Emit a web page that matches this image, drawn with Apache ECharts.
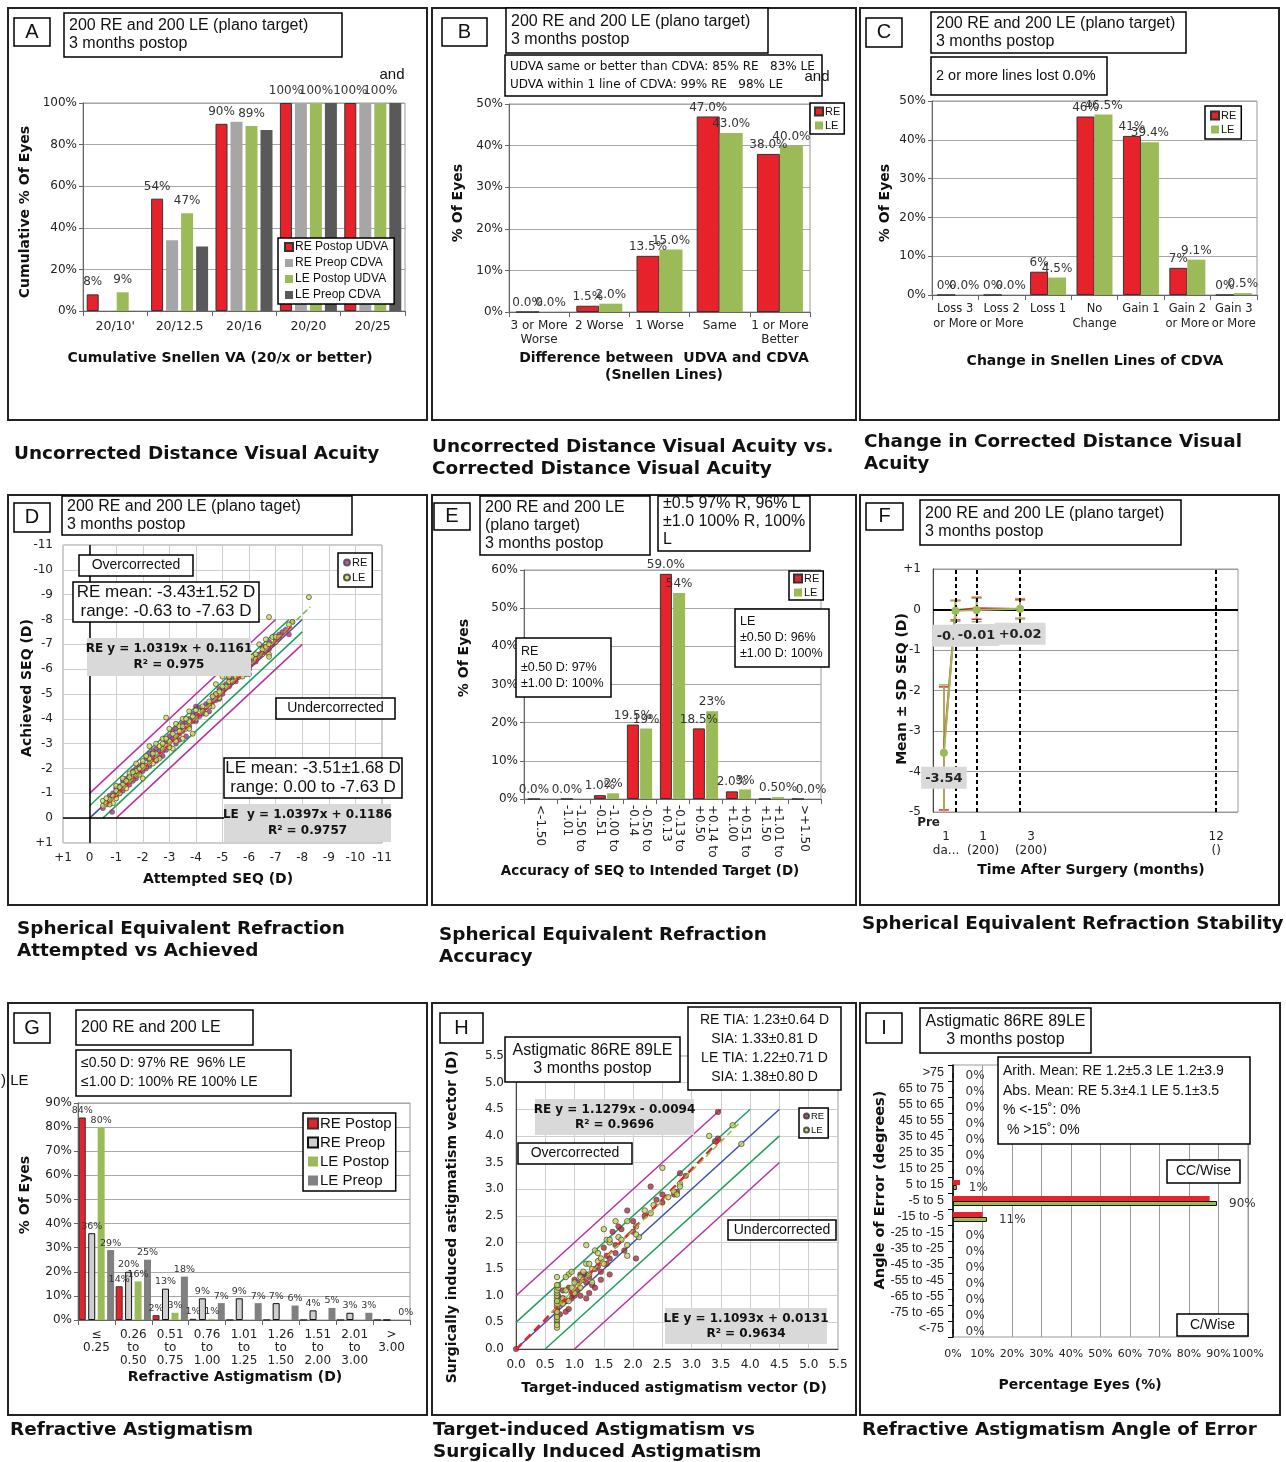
<!DOCTYPE html>
<html><head><meta charset="utf-8">
<script src="https://cdn.jsdelivr.net/npm/echarts@6/dist/echarts.min.js"></script>
<style>html,body{margin:0;padding:0;background:#fff}#c{width:1286px;height:1462px}</style>
</head><body><div id="c"></div>
<script>
// ================= DATA =================
// Panel A
const A_categories = ["20/10'", "20/12.5", "20/16", "20/20", "20/25"];
const A_rePostopUDVA = [8, 54, 90, 100, 100];
const A_rePreopCDVA  = [0, 34, 91, 100, 100];
const A_lePostopUDVA = [9, 47, 89, 100, 100];
const A_lePreopCDVA  = [0, 31, 87, 100, 100];
const A_reLabels = ["8%", "54%", "90%", "100%", "100%"];
const A_leLabels = ["9%", "47%", "89%", "100%", "100%"];
// Panel B
const B_categories = ["3 or More\nWorse", "2 Worse", "1 Worse", "Same", "1 or More\nBetter"];
const B_re = [0, 1.5, 13.5, 47, 38];
const B_le = [0, 2, 15, 43, 40];
// Panel C
const C_categories = ["Loss 3\nor More", "Loss 2\nor More", "Loss 1", "No\nChange", "Gain 1", "Gain 2\nor More", "Gain 3\nor More"];
const C_re = [0, 0, 6, 46, 41, 7, 0];
const C_le = [0, 0, 4.5, 46.5, 39.4, 9.1, 0.5];
const C_reLabels = ["0%", "0%", "6%", "46%", "41%", "7%", "0%"];
const C_leLabels = ["0.0%", "0.0%", "4.5%", "46.5%", "39.4%", "9.1%", "0.5%"];
// Panel D  [attempted, achieved]
const D_re = [[-0.63,-0.55],[-0.75,-0.9],[-0.85,-0.25],[-1.0,-1.2],[-1.0,-0.9],[-1.13,-1.3],[-1.25,-1.1],[-1.25,-1.5],[-1.38,-1.4],[-1.5,-1.7],[-1.5,-1.35],[-1.63,-1.9],[-1.75,-1.6],[-1.75,-2.0],[-1.88,-1.8],[-2.0,-2.2],[-2.0,-1.9],[-2.13,-2.4],[-2.25,-2.1],[-2.25,-2.6],[-2.38,-2.5],[-2.5,-2.3],[-2.5,-2.8],[-2.63,-2.7],[-2.75,-2.9],[-2.75,-2.5],[-2.88,-3.1],[-3.0,-3.3],[-3.0,-2.9],[-3.13,-3.2],[-3.25,-3.6],[-3.25,-3.0],[-3.38,-3.4],[-3.5,-3.8],[-3.5,-3.5],[-3.63,-3.3],[-3.75,-4.0],[-3.88,-3.9],[-4.0,-4.2],[-4.0,-4.5],[-4.13,-4.1],[-4.25,-4.4],[-4.38,-4.6],[-4.5,-4.3],[-4.63,-4.9],[-4.75,-5.0],[-4.88,-4.8],[-5.0,-5.2],[-5.13,-5.4],[-5.25,-5.3],[-5.38,-5.6],[-5.5,-5.8],[-5.63,-5.7],[-5.75,-6.0],[-5.88,-6.1],[-6.0,-5.8],[-6.13,-6.4],[-6.25,-6.5],[-6.5,-6.7],[-6.63,-6.9],[-6.75,-7.1],[-7.0,-7.2],[-7.25,-7.5],[-7.5,-7.4],[-7.63,-7.9],
  [-0.5,-0.4],[-0.75,-0.6],[-0.88,-1.0],[-1.13,-1.0],[-1.25,-1.3],[-1.38,-1.6],[-1.5,-1.55],[-1.63,-1.5],[-1.75,-1.8],[-1.88,-2.1],[-2.0,-2.0],[-2.13,-2.0],[-2.25,-2.35],[-2.38,-2.7],[-2.5,-2.55],[-2.63,-2.45],[-2.75,-2.7],[-2.88,-2.75],[-3.0,-3.1],[-3.13,-3.5],[-3.25,-3.3],[-3.38,-3.15],[-3.5,-3.65],[-3.63,-3.85],[-3.75,-3.7],[-3.88,-4.2],[-4.0,-3.9],[-4.13,-4.45],[-4.25,-4.2],[-4.5,-4.6],[-4.63,-4.7],[-4.75,-4.75],[-4.88,-5.2],[-5.0,-5.0],[-5.25,-5.6],[-5.5,-5.5],[-5.75,-5.8],[-6.0,-6.2],[-6.25,-6.3],[-6.38,-6.6],[-6.5,-6.9],[-6.75,-6.8],[-6.88,-7.0],[-7.13,-7.4],[-7.38,-7.6]];
const D_le = [[-0.5,-0.5],[-0.5,-0.7],[-0.63,-0.6],[-0.75,-0.75],[-0.88,-0.9],[-0.88,-0.6],[-1.0,-1.1],[-1.0,-0.8],[-1.13,-1.0],[-1.25,-1.35],[-1.25,-1.6],[-1.38,-1.2],[-1.5,-1.5],[-1.5,-1.8],[-1.63,-1.6],[-1.75,-1.9],[-1.75,-2.2],[-1.88,-2.0],[-2.0,-1.6],[-2.0,-2.3],[-2.13,-2.1],[-2.25,-2.4],[-2.25,-2.9],[-2.38,-2.2],[-2.5,-2.6],[-2.5,-3.0],[-2.63,-2.4],[-2.75,-2.8],[-2.75,-3.2],[-2.88,-2.9],[-2.88,-4.05],[-3.0,-3.1],[-3.0,-3.6],[-3.13,-2.8],[-3.25,-3.3],[-3.25,-3.8],[-3.38,-3.7],[-3.5,-3.2],[-3.5,-4.0],[-3.63,-3.6],[-3.75,-3.9],[-3.75,-4.3],[-3.88,-3.4],[-4.0,-4.0],[-4.13,-4.3],[-4.25,-4.5],[-4.38,-4.2],[-4.5,-4.7],[-4.63,-4.5],[-4.75,-5.0],[-4.75,-5.4],[-4.88,-5.1],[-5.0,-5.7],[-5.13,-5.3],[-5.25,-5.5],[-5.5,-5.7],[-5.63,-5.7],[-5.75,-6.1],[-5.88,-5.8],[-6.0,-6.3],[-6.13,-6.5],[-6.25,-6.6],[-6.38,-7.0],[-6.5,-6.8],[-6.63,-7.2],[-6.75,-6.6],[-6.75,-8.1],[-6.88,-7.3],[-7.0,-7.3],[-7.63,-7.9],[-8.25,-8.9],
  [-0.63,-0.8],[-0.75,-0.55],[-1.0,-1.3],[-1.13,-1.25],[-1.38,-1.5],[-1.5,-1.65],[-1.63,-1.85],[-1.75,-1.7],[-1.88,-1.75],[-2.0,-2.1],[-2.13,-2.5],[-2.25,-2.2],[-2.38,-2.6],[-2.5,-2.35],[-2.63,-2.9],[-2.75,-3.0],[-2.88,-3.2],[-3.0,-2.85],[-3.13,-3.4],[-3.25,-3.1],[-3.38,-3.5],[-3.5,-3.7],[-3.63,-4.0],[-3.75,-3.6],[-3.88,-4.1],[-4.0,-4.35],[-4.25,-4.3],[-4.5,-4.5],[-4.63,-4.9],[-4.88,-4.85],[-5.0,-5.3],[-5.25,-5.7],[-5.38,-5.5],[-5.5,-5.9],[-5.75,-5.7],[-6.0,-6.0],[-6.25,-6.4],[-6.5,-6.6],[-6.63,-6.9],[-6.75,-7.0],[-7.0,-7.1],[-7.13,-7.3],[-6.75,-6.5],[-7.5,-7.8]];
const D_identity = [[0,0],[-8,-8]];
const D_over05 = [[0,-0.5],[-7.5,-8]];
const D_under05 = [[-0.5,0],[-8,-7.5]];
const D_over10 = [[0,-1],[-7,-8]];
const D_under10 = [[-1,0],[-8,-7]];
const D_reFit = [[-0.6,-0.5],[-7.6,-7.73]];
const D_leFit = [[-0.5,-0.4],[-8.3,-8.51]];
// Panel E
const E_categories = ["<-1.50", "-1.50 to\n-1.01", "-1.00 to\n-0.51", "-0.50 to\n-0.14", "-0.13 to\n+0.13", "+0.14 to\n+0.50", "+0.51 to\n+1.00", "+1.01 to\n+1.50", ">+1.50"];
const E_re = [0, 0, 1, 19.5, 59, 18.5, 2, 0, 0];
const E_le = [0, 0, 1.5, 18.5, 54, 23, 2.5, 0.5, 0];
const E_reLabels = ["0.0%", "0.0%", "1.0%", "19.5%", "59.0%", "18.5%", "2.0%", "", ""];
const E_leLabels = ["", "", "2%", "19%", "54%", "23%", "3%", "0.50%", "0.0%"];
// Panel F
const F_times = [-0.5, 0.03, 1, 3];
const F_reMean = [-3.43, -0.02, 0.03, 0.01];
const F_reSD = [1.52, 0.24, 0.27, 0.23];
const F_leMean = [-3.54, -0.03, -0.01, 0.02];
const F_leSD = [1.68, 0.26, 0.29, 0.25];
const F_leLabels = ["-3.54", "-0.03", "-0.01", "+0.02"];
const F_visitLines = [0.03, 1, 3, 12];
const F_tickValues = [-0.4, 1.3, 3.5, 12];
const F_tickLabels = ["1\nda...", "1\n(200)", "3\n(200)", "12\n()"];
const F_preLabel = "Pre";
// Panel G
const G_categories = ["≤\n0.25", "0.26\nto\n0.50", "0.51\nto\n0.75", "0.76\nto\n1.00", "1.01\nto\n1.25", "1.26\nto\n1.50", "1.51\nto\n2.00", "2.01\nto\n3.00", ">\n3.00"];
const G_rePostop = [84, 14, 2, 0.5, 0, 0, 0, 0, 0];
const G_rePreop  = [36, 20, 13, 9, 9, 7, 4, 3, 0];
const G_lePostop = [80, 16, 3, 0.5, 0, 0, 0, 0, 0];
const G_lePreop  = [29, 25, 18, 7, 7, 6, 5, 3, 0];
const G_rePostopLabels = ["84%", "14%", "2%", "1%", "", "", "", "", ""];
const G_rePreopLabels  = ["36%", "20%", "13%", "9%", "9%", "7%", "4%", "3%", ""];
const G_lePostopLabels = ["80%", "16%", "3%", "1%", "", "", "", "", ""];
const G_lePreopLabels  = ["29%", "25%", "18%", "7%", "7%", "6%", "5%", "3%", "0%"];
// Panel H [TIA, SIA]
const H_re = [[0,0],[0.7,0.5],[0.7,0.6],[0.7,0.75],[0.7,0.9],[0.72,1.0],[0.75,0.85],[0.8,1.1],[0.85,0.7],[0.9,0.75],[0.9,1.15],[0.95,0.95],[1.0,1.0],[1.0,1.3],[1.05,1.1],[1.1,1.0],[1.15,1.4],[1.2,0.95],[1.2,1.25],[1.25,1.05],[1.3,1.2],[1.35,1.15],[1.4,1.55],[1.45,1.3],[1.5,1.9],[1.55,1.6],[1.6,1.4],[1.6,1.7],[1.65,2.2],[1.7,1.95],[1.8,2.25],[1.85,1.85],[1.9,2.6],[2.0,2.2],[2.05,1.7],[2.2,2.5],[2.3,3.05],[2.4,2.8],[2.5,2.75],[2.7,2.9],[2.8,3.3],[2.9,3.25],[3.45,3.95],[3.45,4.45],
  [0.75,0.65],[0.8,0.95],[0.85,0.9],[0.95,1.05],[1.05,1.25],[1.1,1.4],[1.2,1.4],[1.25,1.35],[1.35,1.5],[1.45,1.45],[1.55,1.75],[1.7,1.8],[1.75,2.3],[2.0,2.4],[2.5,2.9],[2.75,2.95],[3.4,3.9]];
const H_le = [[0.7,0.4],[0.7,0.45],[0.7,0.55],[0.7,0.65],[0.7,0.7],[0.7,0.8],[0.7,0.85],[0.7,0.95],[0.7,1.0],[0.7,1.05],[0.7,1.1],[0.72,1.15],[0.72,1.2],[0.7,1.35],[0.75,0.9],[0.8,0.95],[0.85,1.1],[0.9,1.4],[0.9,0.9],[0.95,1.45],[1.0,1.05],[1.05,1.2],[1.1,1.35],[1.15,1.3],[1.2,1.6],[1.2,1.95],[1.25,1.4],[1.3,1.25],[1.35,1.85],[1.4,1.65],[1.45,1.7],[1.5,2.25],[1.55,2.05],[1.6,2.0],[1.7,2.4],[1.75,2.1],[1.9,1.75],[1.9,1.95],[1.9,2.4],[2.05,2.3],[2.1,2.1],[2.2,2.6],[2.3,2.55],[2.5,3.4],[2.7,2.95],[2.75,2.9],[2.8,3.1],[3.3,4.0],[3.7,4.2],[3.85,3.85],
  [0.7,0.6],[0.7,0.9],[0.7,1.2],[0.8,0.85],[0.85,1.35],[0.95,1.15],[1.0,1.25],[1.1,1.15],[1.15,1.45],[1.25,1.6],[1.3,1.5],[1.4,1.8],[1.5,1.6],[1.6,2.05],[1.8,2.05],[2.05,2.15],[2.35,2.7],[2.6,2.85],[2.8,3.05]];
const H_identity = [[0,0],[4.5,4.5]];
const H_over05 = [[0,0.5],[4,4.5]];
const H_under05 = [[0.5,0],[4.5,4]];
const H_over10 = [[0,1],[3.5,4.5]];
const H_under10 = [[1,0],[4.5,3.5]];
const H_reFit = [[0,-0.01],[3.5,3.94]];
const H_leFit = [[0.6,0.68],[3.85,4.28]];
// Panel I
const I_categories = [">75", "65 to 75", "55 to 65", "45 to 55", "35 to 45", "25 to 35", "15 to 25", "5 to 15", "-5 to 5", "-15 to -5", "-25 to -15", "-35 to -25", "-45 to -35", "-55 to -45", "-65 to -55", "-75 to -65", "<-75"];
const I_re = [0, 0, 0, 0, 0, 0, 0, 2.4, 87, 10, 0, 0, 0, 0, 0, 0, 0];
const I_le = [0, 0, 0, 0, 0, 0, 0, 1.3, 89.5, 11.5, 0, 0, 0, 0, 0, 0, 0];
const I_leLabels = ["0%", "0%", "0%", "0%", "0%", "0%", "0%", "1%", "90%", "11%", "0%", "0%", "0%", "0%", "0%", "0%", "0%"];

// ================= STYLE / HELPERS =================
const FONT = 'DejaVu Sans', ARIAL = 'Liberation Sans';
const RED = '#e8222a', GREEN = '#9bbb59', LGRAY = '#a6a6a6', DGRAY = '#595959';
const MAG = '#b8309f', TEAL = '#1f9e5e', BLUE = '#3a4fb0';
const ZW = n => '\u200b'.repeat(n);
const strip = s => s.replace(/\u200b/g, '');

function merge(a, b) {
  for (const k in b) {
    if (b[k] && typeof b[k] === 'object' && !Array.isArray(b[k]) && a[k] && typeof a[k] === 'object' && !Array.isArray(a[k])) merge(a[k], b[k]);
    else a[k] = b[k];
  }
  return a;
}
function pctAxis(gi, max, interval, extra) {
  return merge({gridIndex: gi, type: 'value', min: 0, max, interval,
    axisLine: {show: true, lineStyle: {color: '#666'}}, axisTick: {show: true, length: 4, lineStyle: {color: '#666'}},
    splitLine: {show: true, lineStyle: {color: '#a8a8a8', width: 1}},
    axisLabel: {formatter: '{value}%', fontFamily: FONT, fontSize: 12, color: '#222', margin: 6, showMinLabel: true, showMaxLabel: true}}, extra || {});
}
function catAxis(gi, data, extra) {
  return merge({gridIndex: gi, type: 'category', data,
    axisLine: {show: true, lineStyle: {color: '#666'}}, axisTick: {show: true, length: 5, lineStyle: {color: '#666'}},
    splitLine: {show: false},
    axisLabel: {interval: 0, fontFamily: FONT, fontSize: 12, color: '#222', margin: 7, lineHeight: 14, hideOverlap: false}}, extra || {});
}
function bar(name, gi, data, color, o) {
  o = o || {};
  const s = {type: 'bar', name, xAxisIndex: gi, yAxisIndex: gi, data, barWidth: o.bw, barGap: o.gap || '0%',
    itemStyle: {color, borderColor: o.border || color, borderWidth: o.border ? 1 : 0}, z: 2, silent: true};
  if (o.labels) s.label = {show: true, position: o.pos || 'top', distance: o.dist === undefined ? 3 : o.dist,
    fontFamily: FONT, fontSize: o.fs || 12, color: '#333', formatter: p => o.labels[p.dataIndex]};
  return s;
}
function refLine(name, gi, data, color, o) {
  o = o || {};
  return {type: 'line', name, xAxisIndex: gi, yAxisIndex: gi, data, showSymbol: false, symbol: 'none', silent: true,
    lineStyle: {color, width: o.w || 1.5, type: o.type || 'solid'}, z: o.z || 3, clip: true};
}
function legendBox(names, left, top, o) {
  o = o || {};
  return {left, top, orient: 'vertical', data: names, selectedMode: false,
    backgroundColor: '#fff', borderColor: '#000', borderWidth: 1.5, padding: o.pad || [3, 4],
    itemGap: o.gap === undefined ? 3 : o.gap, itemWidth: o.iw || 8, itemHeight: o.ih || 8, icon: o.icon || 'rect',
    formatter: strip, textStyle: {fontFamily: o.ff || ARIAL, fontSize: o.fs || 11, color: '#111', padding: [0, 0, 0, -3]}, z: 60};
}

// ================= GRAPHICS (frames, text boxes, captions) =================
const gfx = [];
function rect(x, y, w, h, o) {
  o = o || {};
  gfx.push({type: 'rect', shape: {x, y, width: w, height: h}, z: o.z || 100, silent: true,
    style: {fill: o.fill === undefined ? '#fff' : o.fill, stroke: o.stroke === undefined ? '#000' : o.stroke, lineWidth: o.lw || 1.5}});
}
function text(x, y, str, o) {
  o = o || {};
  gfx.push({type: 'text', x, y, z: o.z || 101, silent: true, rotation: o.rot || 0,
    style: {text: str, fontFamily: o.ff || ARIAL, fontSize: o.fs || 16, fontWeight: o.fw || 'normal', fill: o.color || '#111',
      align: o.align || 'left', verticalAlign: 'middle', lineHeight: o.lh || Math.round((o.fs || 16) * 1.17)}});
}
function tbox(x, y, w, h, str, o) {
  o = o || {};
  rect(x, y, w, h, {fill: o.fill, stroke: o.stroke, lw: o.lw});
  const al = o.align || 'left';
  text(al === 'center' ? x + w / 2 : x + (o.pad || 5), y + h / 2 + (o.dy || 0), str, {fs: o.fs, ff: o.ff, fw: o.fw, align: al, lh: o.lh});
}
function ytitle(x, y, str, fs) { text(x, y, str, {rot: Math.PI / 2, align: 'center', ff: FONT, fw: 'bold', fs: fs || 14}); }
function xtitle(x, y, str, fs) { text(x, y, str, {align: 'center', ff: FONT, fw: 'bold', fs: fs || 14}); }
function caption(x, y, str) { text(x, y, str, {ff: FONT, fw: 'bold', fs: 18.4, lh: 22}); }

// panel frames
[[8,8,419,412],[432,8,424,412],[860,8,419,412],[8,495,419,410],[432,495,424,410],[860,495,419,410],[8,1003,419,412],[432,1003,424,412],[860,1003,420,412]]
  .forEach(r => rect(r[0], r[1], r[2], r[3], {fill: 'none', stroke: '#222', lw: 2, z: 90}));

// A
tbox(14, 18, 36, 28, 'A', {align: 'center', fs: 20});
tbox(64, 13, 278, 44, '200 RE and 200 LE (plano target)\n3 months postop', {fs: 16, lh: 18});
text(392, 75, 'and', {fs: 15, align: 'center'});
ytitle(25, 212, 'Cumulative % Of Eyes');
xtitle(220, 358, 'Cumulative Snellen VA (20/x or better)');
caption(14, 454, 'Uncorrected Distance Visual Acuity');
// B
tbox(442, 18, 45, 28, 'B', {align: 'center', fs: 20});
tbox(506, 8, 262, 45, '200 RE and 200 LE (plano target)\n3 months postop', {fs: 16, lh: 18});
tbox(505, 55, 317, 41, 'UDVA same or better than CDVA: 85% RE   83% LE\nUDVA within 1 line of CDVA: 99% RE   98% LE', {fs: 12, ff: FONT, lh: 18});
text(817, 77, 'and', {fs: 15, align: 'center', z: 102});
ytitle(458, 203, '% Of Eyes');
xtitle(664, 358, 'Difference between  UDVA and CDVA');
xtitle(664, 375, '(Snellen Lines)');
caption(432, 447, 'Uncorrected Distance Visual Acuity vs.');
caption(432, 469, 'Corrected Distance Visual Acuity');
// C
tbox(866, 18, 36, 29, 'C', {align: 'center', fs: 20});
tbox(931, 12, 255, 41, '200 RE and 200 LE (plano target)\n3 months postop', {fs: 16, lh: 18});
tbox(931, 57, 176, 38, '2 or more lines lost 0.0%', {fs: 14.5});
ytitle(885, 203, '% Of Eyes');
xtitle(1095, 361, 'Change in Snellen Lines of CDVA');
caption(864, 442, 'Change in Corrected Distance Visual');
caption(864, 464, 'Acuity');
// D
tbox(14, 503, 36, 29, 'D', {align: 'center', fs: 20});
tbox(62, 496, 290, 39, '200 RE and 200 LE (plano taget)\n3 months postop', {fs: 16, lh: 18});
tbox(79, 555, 114, 21, 'Overcorrected', {align: 'center', fs: 14});
tbox(73, 582, 186, 40, 'RE mean: -3.43±1.52 D\nrange: -0.63 to -7.63 D', {align: 'center', fs: 17, lh: 19});
tbox(87, 638, 164, 38, 'RE y = 1.0319x + 0.1161\nR² = 0.975', {align: 'center', fs: 12, ff: FONT, fw: 'bold', fill: '#d9d9d9', stroke: 'none', lh: 16});
tbox(276, 698, 119, 21, 'Undercorrected', {align: 'center', fs: 14});
tbox(224, 758, 178, 40, 'LE mean: -3.51±1.68 D\nrange: 0.00 to -7.63 D', {align: 'center', fs: 17, lh: 19});
tbox(224, 804, 167, 38, 'LE  y = 1.0397x + 0.1186\nR² = 0.9757', {align: 'center', fs: 12, ff: FONT, fw: 'bold', fill: '#d9d9d9', stroke: 'none', lh: 16});
ytitle(27, 688, 'Achieved SEQ (D)');
xtitle(218, 879, 'Attempted SEQ (D)');
caption(17, 929, 'Spherical Equivalent Refraction');
caption(17, 951, 'Attempted vs Achieved');
// E
tbox(434, 503, 36, 27, 'E', {align: 'center', fs: 20});
tbox(480, 496, 170, 59, '200 RE and 200 LE\n(plano target)\n3 months postop', {fs: 16, lh: 18});
tbox(658, 496, 152, 55, '±0.5 97% R, 96% L\n±1.0 100% R, 100%\nL', {fs: 16, lh: 18, dy: -2});
tbox(516, 638, 95, 59, 'RE\n±0.50 D: 97%\n±1.00 D: 100%', {fs: 12.5, lh: 16});
tbox(735, 609, 94, 58, 'LE\n±0.50 D: 96%\n±1.00 D: 100%', {fs: 12.5, lh: 16});
ytitle(464, 658, '% Of Eyes');
xtitle(650, 871, 'Accuracy of SEQ to Intended Target (D)', 13.5);
caption(439, 935, 'Spherical Equivalent Refraction');
caption(439, 957, 'Accuracy');
// F
tbox(866, 503, 37, 27, 'F', {align: 'center', fs: 20});
tbox(920, 500, 261, 45, '200 RE and 200 LE (plano target)\n3 months postop', {fs: 16, lh: 18});
ytitle(902, 689, 'Mean ± SD SEQ (D)');
xtitle(1091, 870, 'Time After Surgery (months)');
caption(862, 924, 'Spherical Equivalent Refraction Stability');
// G
tbox(14, 1013, 36, 30, 'G', {align: 'center', fs: 20});
tbox(76, 1010, 177, 35, '200 RE and 200 LE', {fs: 16});
tbox(76, 1050, 215, 46, '≤0.50 D: 97% RE  96% LE\n≤1.00 D: 100% RE 100% LE', {fs: 14, lh: 19});
text(1, 1081, ') LE', {fs: 15});
ytitle(25, 1195, '% Of Eyes');
xtitle(235, 1377, 'Refractive Astigmatism (D)');
caption(10, 1430, 'Refractive Astigmatism');
// H
tbox(440, 1013, 43, 30, 'H', {align: 'center', fs: 20});
tbox(505, 1037, 175, 45, 'Astigmatic 86RE 89LE\n3 months postop', {align: 'center', fs: 16, lh: 18});
tbox(688, 1007, 153, 83, 'RE TIA: 1.23±0.64 D\nSIA: 1.33±0.81 D\nLE TIA: 1.22±0.71 D\nSIA: 1.38±0.80 D', {align: 'center', fs: 14, lh: 19});
tbox(535, 1099, 159, 36, 'RE y = 1.1279x - 0.0094\nR² = 0.9696', {align: 'center', fs: 12, ff: FONT, fw: 'bold', fill: '#d9d9d9', stroke: 'none', lh: 15});
tbox(518, 1143, 114, 21, 'Overcorrected', {align: 'center', fs: 14});
tbox(728, 1220, 108, 20, 'Undercorrected', {align: 'center', fs: 14});
tbox(665, 1308, 162, 36, 'LE y = 1.1093x + 0.0131\nR² = 0.9634', {align: 'center', fs: 12, ff: FONT, fw: 'bold', fill: '#d9d9d9', stroke: 'none', lh: 15});
ytitle(452, 1217, 'Surgically induced astigmatism vector (D)', 14);
xtitle(674, 1388, 'Target-induced astigmatism vector (D)', 14);
caption(433, 1430, 'Target-induced Astigmatism vs');
caption(433, 1452, 'Surgically Induced Astigmatism');
// I
tbox(866, 1013, 36, 30, 'I', {align: 'center', fs: 20});
tbox(920, 1008, 171, 45, 'Astigmatic 86RE 89LE\n3 months postop', {align: 'center', fs: 16, lh: 18});
tbox(998, 1057, 252, 87, 'Arith. Mean: RE 1.2±5.3 LE 1.2±3.9\nAbs. Mean: RE 5.3±4.1 LE 5.1±3.5\n% <-15˚: 0%\n % >15˚: 0%', {fs: 14, lh: 19.5});
tbox(1167, 1160, 73, 23, 'CC/Wise', {align: 'center', fs: 14});
tbox(1177, 1314, 71, 22, 'C/Wise', {align: 'center', fs: 14});
ytitle(880, 1190, 'Angle of Error (degrees)', 14.5);
xtitle(1080, 1385, 'Percentage Eyes (%)');
caption(862, 1430, 'Refractive Astigmatism Angle of Error');

// ================= GRIDS & AXES =================
const gridBoxes = [
  [83, 103, 322, 208],   // A
  [509, 104, 301, 208],  // B
  [932, 101, 325, 194],  // C
  [63, 545, 319, 298],   // D
  [524, 570, 297, 229],  // E
  [933, 569, 305, 243],  // F
  [78, 1103, 332, 217],  // G
  [516, 1056, 322, 293], // H
  [953, 1065, 295, 272]  // I
];
const grid = gridBoxes.map(b => ({left: b[0], top: b[1], width: b[2], height: b[3], containLabel: false, outerBoundsMode: 'none',
  show: true, borderColor: '#9a9a9a', borderWidth: 1, backgroundColor: 'transparent'}));

const sgn = v => v > 0 ? '+' + v : String(v);
const xAxis = [
  catAxis(0, A_categories, {axisLabel: {fontSize: 12.5, margin: 9}}),
  catAxis(1, B_categories, {axisLabel: {fontSize: 12}}),
  catAxis(2, C_categories, {axisLabel: {fontSize: 11.5, lineHeight: 15}}),
  {gridIndex: 3, type: 'value', min: -11, max: 1, interval: 1, inverse: true,
    axisLine: {show: false, onZero: false}, axisTick: {show: false}, splitLine: {show: true, lineStyle: {color: '#cfcfcf'}},
    axisLabel: {formatter: sgn, fontFamily: FONT, fontSize: 12, color: '#222', margin: 9, showMinLabel: true, showMaxLabel: true, hideOverlap: false}},
  catAxis(4, E_categories, {axisLabel: {rotate: -90, fontSize: 12, lineHeight: 13, margin: 6}}),
  {gridIndex: 5, type: 'value', min: -1, max: 13,
    name: F_preLabel, nameLocation: 'start', nameGap: -7, nameMoveOverlap: false,
    nameTextStyle: {fontFamily: FONT, fontWeight: 'bold', fontSize: 12, color: '#222', verticalAlign: 'top', padding: [5, 0, 0, 0]},
    axisLine: {show: false, onZero: false}, axisTick: {show: false}, splitLine: {show: false},
    axisLabel: {customValues: F_tickValues, showMinLabel: true, showMaxLabel: true, hideOverlap: false,
      fontFamily: FONT, fontSize: 12, color: '#222', margin: 4, lineHeight: 14,
      formatter: v => {
        let i = -1;
        F_tickValues.forEach((t, k) => { if (Math.abs(t - v) < 1e-6) i = k; });
        return i < 0 ? '' : ' \n' + F_tickLabels[i];
      }}},
  catAxis(6, G_categories, {axisLabel: {fontSize: 12, lineHeight: 13, margin: 8}}),
  {gridIndex: 7, type: 'value', min: 0, max: 5.5, interval: 0.5,
    axisLine: {show: true, lineStyle: {color: '#444'}}, axisTick: {show: false}, splitLine: {show: true, lineStyle: {color: '#cfcfcf'}},
    axisLabel: {formatter: v => v.toFixed(1), fontFamily: FONT, fontSize: 12, color: '#222', margin: 10, showMinLabel: true, showMaxLabel: true, hideOverlap: false}},
  {gridIndex: 8, type: 'value', min: 0, max: 100, interval: 10,
    axisLine: {show: false}, axisTick: {show: false}, splitLine: {show: true, lineStyle: {color: '#9a9a9a'}},
    axisLabel: {formatter: '{value}%', fontFamily: FONT, fontSize: 11, color: '#222', margin: 12, showMinLabel: true, showMaxLabel: true, hideOverlap: false}}
];
const yAxis = [
  pctAxis(0, 100, 20),
  pctAxis(1, 50, 10),
  pctAxis(2, 50, 10),
  {gridIndex: 3, type: 'value', min: -11, max: 1, interval: 1, inverse: true,
    axisLine: {show: false, onZero: false}, axisTick: {show: false}, splitLine: {show: true, lineStyle: {color: '#cfcfcf'}},
    axisLabel: {formatter: sgn, fontFamily: FONT, fontSize: 12, color: '#222', margin: 10, showMinLabel: true, showMaxLabel: true}},
  pctAxis(4, 60, 10),
  {gridIndex: 5, type: 'value', min: -5, max: 1, interval: 1,
    axisLine: {show: true, onZero: false, lineStyle: {color: '#444'}}, axisTick: {show: false}, splitLine: {show: true, lineStyle: {color: '#9a9a9a'}},
    axisLabel: {formatter: sgn, fontFamily: FONT, fontSize: 12, color: '#222', margin: 12, showMinLabel: true, showMaxLabel: true}},
  pctAxis(6, 90, 10),
  {gridIndex: 7, type: 'value', min: 0, max: 5.5, interval: 0.5,
    axisLine: {show: true, lineStyle: {color: '#444'}}, axisTick: {show: false}, splitLine: {show: true, lineStyle: {color: '#cfcfcf'}},
    axisLabel: {formatter: v => v.toFixed(1), fontFamily: FONT, fontSize: 12, color: '#222', margin: 12, showMinLabel: true, showMaxLabel: true}},
  catAxis(8, I_categories, {inverse: true, axisLine: {lineStyle: {color: '#000', width: 1.5}}, axisTick: {lineStyle: {color: '#000'}},
    axisLabel: {fontFamily: ARIAL, fontSize: 12.5, margin: 9}})
];

// ================= SERIES =================
const series = [];
// A
const aOpt = {bw: 12, gap: '25%'};
series.push(bar('RE Postop UDVA', 0, A_rePostopUDVA, RED, Object.assign({border: '#333', labels: A_reLabels, dist: 6, fs: 12}, aOpt)));
series.push(bar('RE Preop CDVA', 0, A_rePreopCDVA, LGRAY, aOpt));
series.push(bar('LE Postop UDVA', 0, A_lePostopUDVA, GREEN, Object.assign({labels: A_leLabels, dist: 6, fs: 12}, aOpt)));
series.push(bar('LE Preop CDVA', 0, A_lePreopCDVA, DGRAY, aOpt));
// B
const bLab = p => p.value.toFixed(1) + '%';
series.push(Object.assign(bar('RE', 1, B_re, RED, {bw: 23, border: '#333'}), {label: {show: true, position: 'top', distance: 3, fontFamily: FONT, fontSize: 12, color: '#333', formatter: bLab}}));
series.push(Object.assign(bar('LE', 1, B_le, GREEN, {bw: 23}), {label: {show: true, position: 'top', distance: 3, fontFamily: FONT, fontSize: 12, color: '#333', formatter: bLab}}));
// C
series.push(bar('RE' + ZW(1), 2, C_re, RED, {bw: 18, border: '#333', labels: C_reLabels}));
series.push(bar('LE' + ZW(1), 2, C_le, GREEN, {bw: 18, labels: C_leLabels}));
// D
series.push(Object.assign(refLine('d0', 3, D_identity, BLUE, {w: 1.5}), {
  markLine: {silent: true, symbol: 'none', label: {show: false}, lineStyle: {color: '#000', width: 1.5, type: 'solid'},
    data: [{xAxis: 0}, {yAxis: 0}]}}));
series.push(refLine('d1', 3, D_over05, TEAL));
series.push(refLine('d2', 3, D_under05, TEAL));
series.push(refLine('d3', 3, D_over10, MAG));
series.push(refLine('d4', 3, D_under10, MAG));
series.push({type: 'scatter', name: 'RE' + ZW(2), xAxisIndex: 3, yAxisIndex: 3, data: D_re, symbolSize: 5, silent: true, z: 4,
  itemStyle: {color: '#a0358a', borderColor: '#444', borderWidth: 0.5}});
series.push({type: 'scatter', name: 'LE' + ZW(2), xAxisIndex: 3, yAxisIndex: 3, data: D_le, symbolSize: 5, silent: true, z: 5,
  itemStyle: {color: '#d3df5a', borderColor: '#333', borderWidth: 0.8}});
series.push(refLine('dre', 3, D_reFit, RED, {w: 2, z: 6}));
series.push(refLine('dle', 3, D_leFit, '#7cb342', {w: 1.5, type: 'dashed', z: 6}));
// E
series.push(bar('RE' + ZW(3), 4, E_re, RED, {bw: 12, gap: '10%', border: '#333', labels: E_reLabels, fs: 12}));
series.push(bar('LE' + ZW(3), 4, E_le, GREEN, {bw: 12, gap: '10%', labels: E_leLabels, fs: 12}));
// F
function errBars(name, means, sds, color) {
  return {type: 'custom', name, xAxisIndex: 5, yAxisIndex: 5, clip: true, silent: true, z: 3,
    data: F_times.map((t, i) => [t, means[i], sds[i]]),
    renderItem: (params, api) => {
      const x = api.value(0), m = api.value(1), sd = api.value(2);
      const hi = api.coord([x, m + sd]), lo = api.coord([x, m - sd]);
      const st = {stroke: color, lineWidth: 1.5};
      return {type: 'group', children: [
        {type: 'line', shape: {x1: hi[0], y1: hi[1], x2: lo[0], y2: lo[1]}, style: st},
        {type: 'line', shape: {x1: hi[0] - 5, y1: hi[1], x2: hi[0] + 5, y2: hi[1]}, style: st},
        {type: 'line', shape: {x1: lo[0] - 5, y1: lo[1], x2: lo[0] + 5, y2: lo[1]}, style: st}]};
    }};
}
series.push(errBars('fErrRe', F_reMean, F_reSD, RED));
series.push(errBars('fErrLe', F_leMean, F_leSD, GREEN));
series.push({type: 'line', name: 'fRe', xAxisIndex: 5, yAxisIndex: 5, data: F_times.map((t, i) => [t, F_reMean[i]]),
  symbol: 'none', silent: true, z: 4, lineStyle: {color: RED, width: 2},
  markLine: {silent: true, symbol: 'none', label: {show: false},
    data: F_visitLines.map(v => ({xAxis: v, lineStyle: {color: '#000', width: 2, type: [4, 3]}}))
      .concat([{yAxis: 0, lineStyle: {color: '#000', width: 2, type: 'solid'}}])}});
series.push({type: 'line', name: 'fLe', xAxisIndex: 5, yAxisIndex: 5, data: F_times.map((t, i) => [t, F_leMean[i]]),
  symbol: 'circle', symbolSize: 8, silent: true, z: 5, itemStyle: {color: GREEN}, lineStyle: {color: GREEN, width: 2},
  label: {show: true, position: 'bottom', distance: 10, formatter: p => F_leLabels[p.dataIndex],
    backgroundColor: '#d9d9d9', padding: [5, 4, 4, 4], fontFamily: FONT, fontWeight: 'bold', fontSize: 13, color: '#222'}});
// G
const gOpt = {bw: 7, gap: '35%', fs: 9.5, dist: 2};
series.push(bar('RE Postop', 6, G_rePostop, RED, Object.assign({border: '#333', labels: G_rePostopLabels}, gOpt)));
series.push(bar('RE Preop', 6, G_rePreop, '#cfcfcf', Object.assign({border: '#111', labels: G_rePreopLabels}, gOpt)));
series.push(bar('LE Postop', 6, G_lePostop, GREEN, Object.assign({labels: G_lePostopLabels}, gOpt)));
series.push(bar('LE Preop', 6, G_lePreop, '#808080', Object.assign({labels: G_lePreopLabels}, gOpt)));
// H
series.push(refLine('h0', 7, H_identity, BLUE));
series.push(refLine('h1', 7, H_over05, TEAL));
series.push(refLine('h2', 7, H_under05, TEAL));
series.push(refLine('h3', 7, H_over10, MAG));
series.push(refLine('h4', 7, H_under10, MAG));
series.push({type: 'scatter', name: 'RE' + ZW(4), xAxisIndex: 7, yAxisIndex: 7, data: H_re, symbolSize: 5.5, silent: true, z: 4,
  itemStyle: {color: '#a8303c', borderColor: '#333', borderWidth: 0.6}});
series.push({type: 'scatter', name: 'LE' + ZW(4), xAxisIndex: 7, yAxisIndex: 7, data: H_le, symbolSize: 5.5, silent: true, z: 5,
  itemStyle: {color: '#c6d35c', borderColor: '#333', borderWidth: 0.8}});
series.push(refLine('hre', 7, H_reFit, RED, {w: 2.5, type: [8, 5], z: 6}));
series.push(refLine('hle', 7, H_leFit, '#8bc34a', {w: 1.5, type: [6, 4], z: 6}));
// I
series.push({type: 'bar', name: 'iRe', xAxisIndex: 8, yAxisIndex: 8, data: I_re, barWidth: 5, barGap: '0%', silent: true,
  itemStyle: {color: RED}});
series.push({type: 'bar', name: 'iLe', xAxisIndex: 8, yAxisIndex: 8, data: I_le, barWidth: 5, barGap: '0%', silent: true,
  itemStyle: {color: GREEN, borderColor: '#111', borderWidth: 1},
  label: {show: true, position: 'right', distance: 12, fontFamily: FONT, fontSize: 12, color: '#333', formatter: p => I_leLabels[p.dataIndex]}});

// ================= LEGENDS =================
const legend = [
  legendBox(['RE Postop UDVA', 'RE Preop CDVA', 'LE Postop UDVA', 'LE Preop CDVA'], 278, 238, {fs: 12, gap: 4, pad: [3, 6]}),
  legendBox(['RE', 'LE'], 810, 103, {fs: 11}),
  legendBox(['RE' + ZW(1), 'LE' + ZW(1)], 1205, 106, {fs: 11, pad: [4, 5]}),
  legendBox(['RE' + ZW(2), 'LE' + ZW(2)], 338, 553, {fs: 11, icon: 'circle', iw: 6, ih: 6, pad: [4, 5], gap: 4}),
  legendBox(['RE' + ZW(3), 'LE' + ZW(3)], 789, 571, {fs: 11, pad: [2, 4]}),
  legendBox(['RE Postop', 'RE Preop', 'LE Postop', 'LE Preop'], 303, 1113, {fs: 15, iw: 10, ih: 10, gap: 4, pad: [3, 4]}),
  legendBox(['RE' + ZW(4), 'LE' + ZW(4)], 799, 1108, {fs: 9.5, icon: 'circle', iw: 5, ih: 5, pad: [3, 4], gap: 4})
];

const chart = echarts.init(document.getElementById('c'), null, {renderer: 'canvas', width: 1286, height: 1462});
chart.setOption({
  animation: false,
  backgroundColor: '#fff',
  textStyle: {fontFamily: FONT},
  grid, xAxis, yAxis, series, legend,
  graphic: {elements: gfx}
});
</script></body></html>
